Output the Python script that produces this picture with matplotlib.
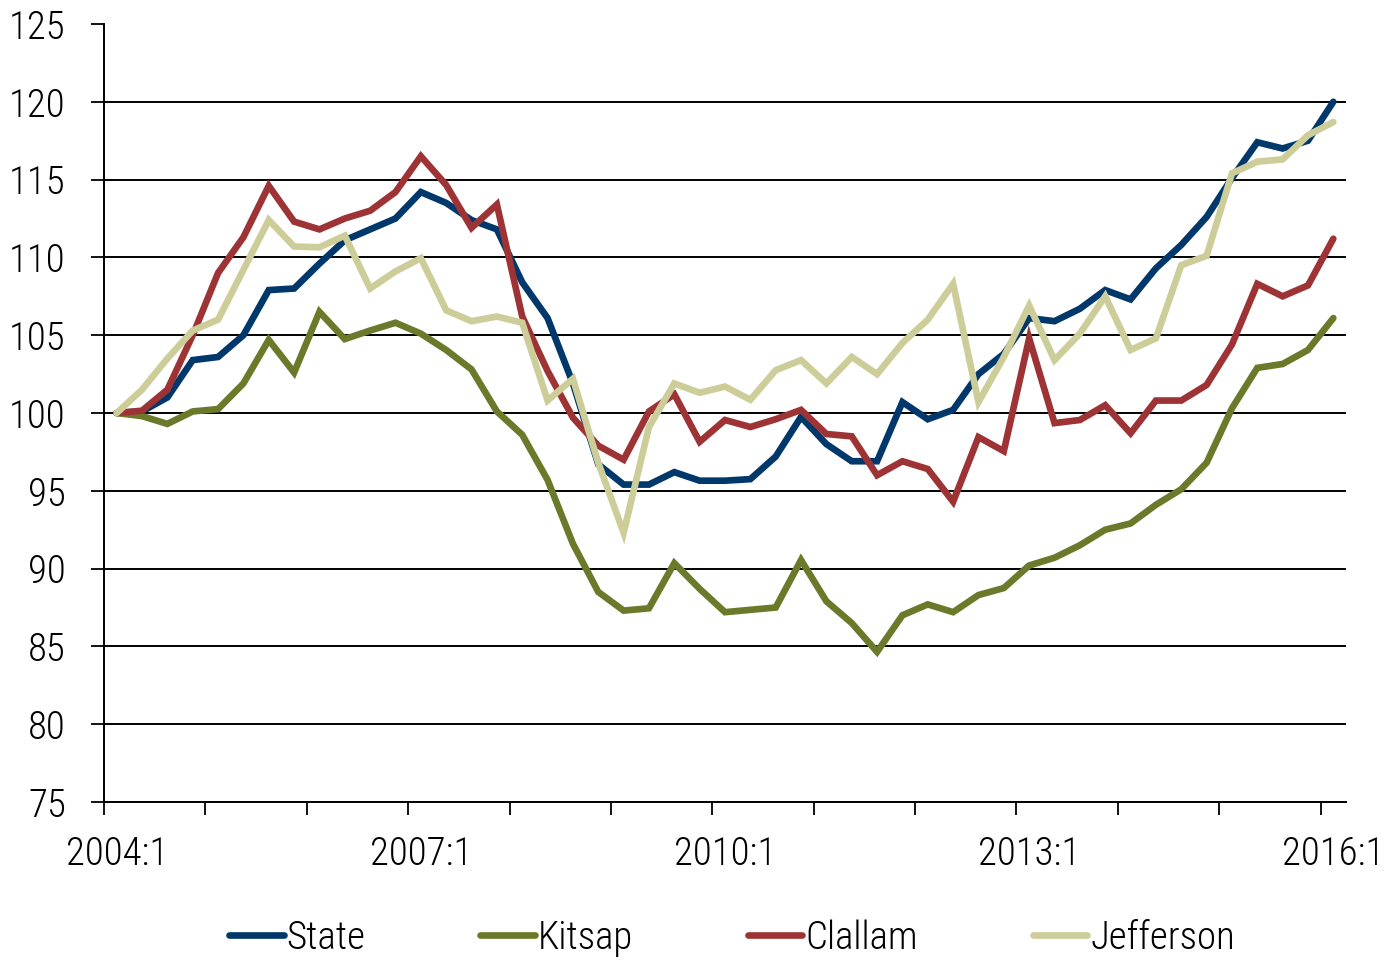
import matplotlib
matplotlib.use("Agg")
import matplotlib.pyplot as plt
import numpy as np
from matplotlib import font_manager

# ---- data (quarterly index, 2004:1 = 100) ----
quarters = [f"{y}:{q}" for y in range(2004, 2017) for q in range(1, 5)][:49]

state = [100.0, 100.1, 101.0, 103.4, 103.6, 105.0, 107.9, 108.0, 109.6, 111.1,
         111.8, 112.5, 114.2, 113.5, 112.4, 111.8, 108.4, 106.1, 101.9, 96.7,
         95.4, 95.4, 96.2, 95.65, 95.65, 95.75, 97.2, 99.75, 98.0, 96.9,
         96.9, 100.7, 99.6, 100.2, 102.5, 103.8, 106.1, 105.9, 106.7, 107.9,
         107.3, 109.3, 110.8, 112.6, 115.1, 117.4, 117.0, 117.5, 120.0]

kitsap = [100.0, 99.8, 99.3, 100.1, 100.25, 101.9, 104.7, 102.6, 106.5, 104.75,
          105.3, 105.8, 105.1, 104.05, 102.8, 100.1, 98.6, 95.7, 91.6, 88.5,
          87.3, 87.45, 90.35, 88.7, 87.2, 87.35, 87.5, 90.55, 87.9, 86.5,
          84.65, 87.0, 87.7, 87.2, 88.3, 88.75, 90.2, 90.7, 91.5, 92.5,
          92.9, 94.1, 95.1, 96.8, 100.3, 102.9, 103.15, 104.05, 106.1]

clallam = [100.0, 100.15, 101.5, 105.0, 109.0, 111.3, 114.6, 112.3, 111.8, 112.5,
           113.0, 114.2, 116.5, 114.65, 111.9, 113.4, 106.2, 102.7, 99.7, 97.9,
           97.0, 100.1, 101.2, 98.15, 99.55, 99.1, 99.6, 100.2, 98.65, 98.5,
           96.0, 96.9, 96.4, 94.3, 98.45, 97.55, 104.8, 99.35, 99.55, 100.5,
           98.7, 100.8, 100.8, 101.8, 104.4, 108.3, 107.5, 108.2, 111.2]

jefferson = [100.0, 101.5, 103.5, 105.3, 106.0, 109.2, 112.4, 110.7, 110.65, 111.4,
             108.0, 109.1, 109.95, 106.6, 105.9, 106.2, 105.8, 100.8, 102.2, 96.8,
             92.3, 99.1, 101.9, 101.3, 101.7, 100.85, 102.75, 103.4, 101.9, 103.6,
             102.5, 104.5, 106.0, 108.3, 100.7, 103.6, 106.9, 103.4, 105.1, 107.5,
             104.05, 104.8, 109.5, 110.1, 115.4, 116.15, 116.3, 117.85, 118.7]

series_names = ["State", "Kitsap", "Clallam", "Jefferson"]
series_colors = ["#00386B", "#6B7A2A", "#9E3336", "#CDCD9A"]
y_ticks = [75, 80, 85, 90, 95, 100, 105, 110, 115, 120, 125]

# ---- font: prefer a narrow / condensed sans ----
names = {f.name for f in font_manager.fontManager.ttflist}
stretch = "normal"
fam = None
for cand in ["Liberation Sans Narrow", "Arial Narrow", "Roboto Condensed", "Open Sans Condensed",
             "Noto Sans Condensed", "DejaVu Sans Condensed"]:
    if cand in names:
        fam = [cand, "DejaVu Sans"]
        break
if fam is None:
    fam = ["DejaVu Sans"]
    stretch = "condensed"
plt.rcParams["font.family"] = fam
plt.rcParams["font.stretch"] = stretch
plt.rcParams["font.weight"] = "light"
FS = 28

fig = plt.figure(figsize=(13.87, 9.60), dpi=100)
ax = fig.add_axes([104/1387, 1-802/960, (1346-104)/1387, (802-24)/960])

x = np.arange(len(quarters))
for vals, name, col in zip([state, kitsap, clallam, jefferson], series_names, series_colors):
    ax.plot(x, vals, color=col, lw=4.8, label=name, solid_joinstyle="miter",
            solid_capstyle="round", zorder=3)

ax.set_xlim(-0.5, len(quarters) - 0.5)
ax.set_ylim(75, 125)
ax.set_yticks(y_ticks)
ax.set_yticklabels([str(v) for v in y_ticks], fontsize=FS)

# x tick marks between year groups, labels every 3 years
ax.set_xticks(np.arange(-0.5, len(quarters), 4))
ax.set_xticklabels([])
lab_pos = list(range(0, len(quarters), 12))
ax.set_xticks(lab_pos, minor=True)
ax.set_xticklabels([quarters[i] for i in lab_pos], minor=True, fontsize=FS)
ax.tick_params(axis="x", which="major", direction="out", length=9, width=1.3, color="black")
ax.tick_params(axis="x", which="minor", length=0, pad=24)
ax.tick_params(axis="y", direction="out", length=9.5, width=1.3, pad=18)

ax.grid(axis="y", color="black", lw=1.4, zorder=1)
ax.get_ygridlines()[-1].set_visible(False)
for s in ["top", "right"]:
    ax.spines[s].set_visible(False)
for s in ["left", "bottom"]:
    ax.spines[s].set_linewidth(1.4)
    ax.spines[s].set_zorder(4)

fig.legend(loc="center", bbox_to_anchor=(732/1387, 1-938/960), ncol=4, frameon=False,
           fontsize=FS, handlelength=1.4, handletextpad=0.08, columnspacing=2.95,
           borderpad=0, borderaxespad=0)

fig.savefig("out.png", dpi=100)
